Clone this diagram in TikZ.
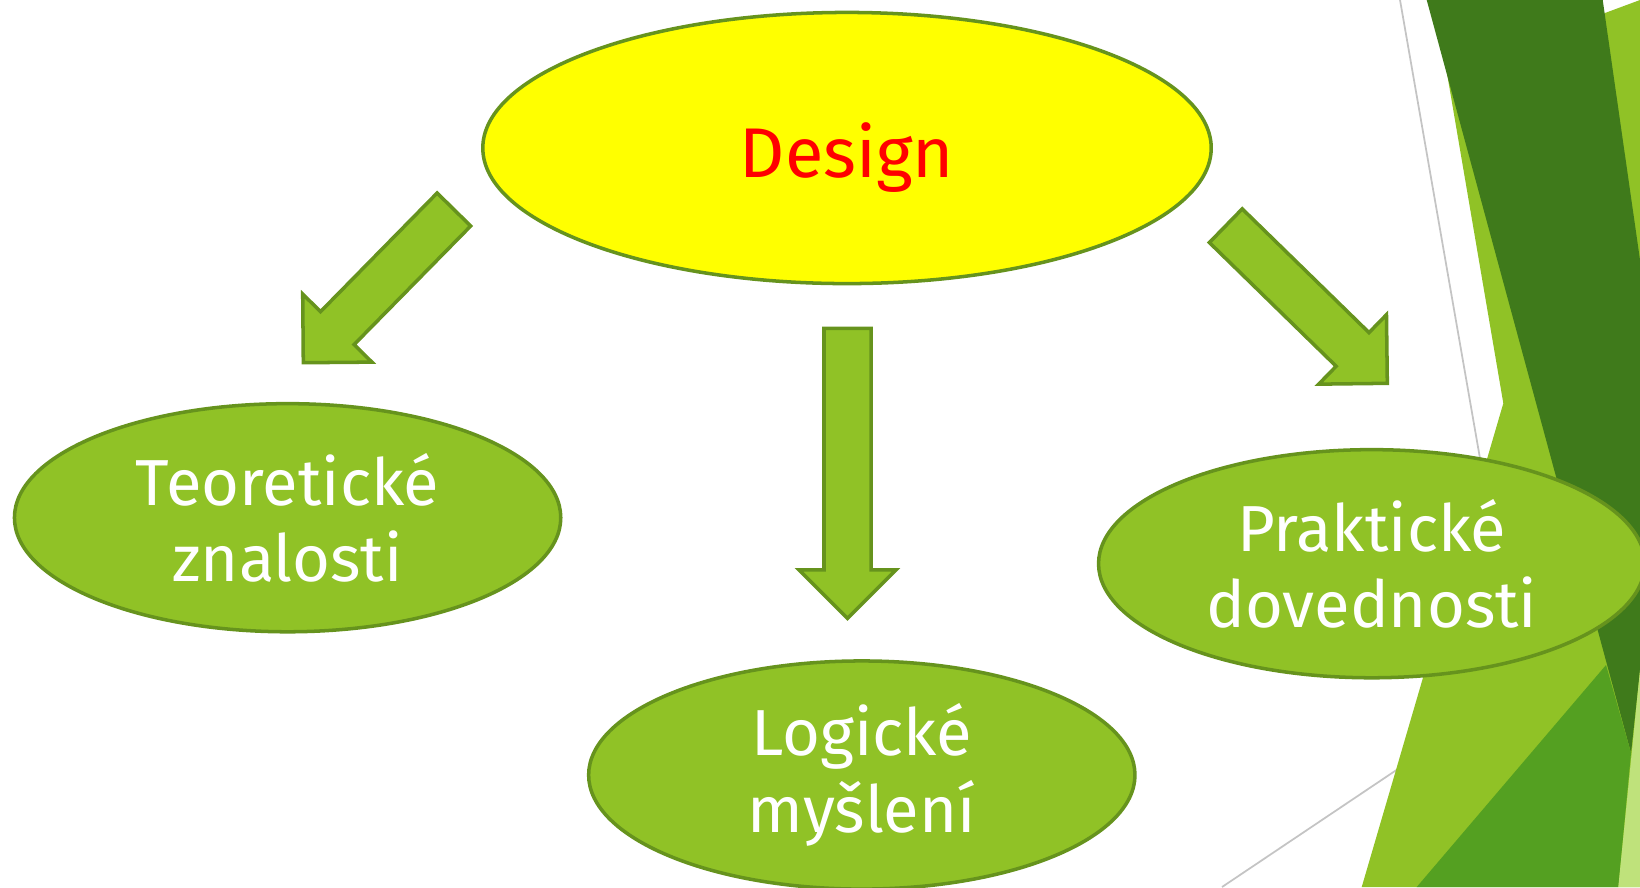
\documentclass[tikz,border=0pt]{standalone}
\usepackage{fontspec}
\setmainfont{Fira Sans}
\usepackage{tikz}
\usetikzlibrary{calc,shapes.geometric}
\definecolor{FacetGreen}{HTML}{90C226}
\definecolor{FacetDark}{HTML}{3F7A1B}
\definecolor{FacetMid}{HTML}{54A021}
\definecolor{FacetPale}{HTML}{BFE27B}
\definecolor{FacetEdge}{HTML}{66931D}
\definecolor{FacetLine}{HTML}{C4C4C4}
\definecolor{DesignYellow}{HTML}{FFFF00}
\definecolor{DesignRed}{HTML}{FF0000}
\newcommand{\shafthalf}{0.235cm}
\newcommand{\winghalf}{0.485cm}
\newcommand{\headlen}{0.485cm}
\tikzset{
  bubble/.style={ellipse,draw=FacetEdge,line width=1pt,fill=FacetGreen,text=white,align=center,
    inner sep=0pt,minimum width=5.46cm,minimum height=2.28cm,font=\fontsize{18.5}{21.8}\selectfont},
  core/.style={bubble,fill=DesignYellow,text=DesignRed,minimum width=7.28cm,minimum height=2.71cm,
    text height=21pt,text depth=4pt,font=\fontsize{20}{24}\selectfont},
  bigarrow/.style={draw=FacetEdge,line width=1pt,fill=FacetGreen,line join=miter},
  hairline/.style={draw=FacetLine,line width=0.5pt}
}
\newcommand{\blockarrow}[2]{%
  \coordinate (hb) at ($(#2)!\headlen!(#1)$);
  \draw[bigarrow] ($(#1)!\shafthalf!90:(#2)$) -- ($(hb)!\shafthalf!90:(#2)$)
    -- ($(hb)!\winghalf!90:(#2)$) -- (#2) -- ($(hb)!\winghalf!-90:(#2)$)
    -- ($(hb)!\shafthalf!-90:(#2)$) -- ($(#1)!\shafthalf!-90:(#2)$) -- cycle;}

\begin{document}
\begin{tikzpicture}[x=0.01cm,y=-0.01cm]
  \useasboundingbox (0,0) rectangle (1640,887);
  % facet background
  \draw[hairline] (1400,0) -- (1482,470);
  \draw[hairline] (1222,887) -- (1400,767.6);
  \fill[FacetGreen] (1446.7,71.7) -- (1503.3,403.3) -- (1361.7,887) -- (1640,887) -- (1640,0) -- cycle;
  \fill[FacetDark] (1426.7,0) -- (1602.7,0) -- (1640,260) -- (1640,670) -- (1631,753) -- cycle;
  \fill[FacetMid] (1416.7,887) -- (1606,665) -- (1631,753) -- (1618.3,887) -- cycle;
  \fill[FacetPale] (1640,670) -- (1618.3,887) -- (1640,887) -- cycle;

  \node[core] (design) at (847,148) {Design};
  \node[bubble] (teo) at (287.6,517.7) {Teoretické\\znalosti};
  \node[bubble] (logic) at (861.8,775) {Logické\\myšlení};
  \node[bubble] (prak) at (1371.7,563.7) {Praktické\\dovednosti};

  \coordinate (teo-tail) at (453.9,209.5);
  \coordinate (teo-tip) at (303.3,362.7);
  \coordinate (logic-tail) at (847.5,328.3);
  \coordinate (logic-tip) at (847.5,618.3);
  \coordinate (prak-tail) at (1225.8,225.7);
  \coordinate (prak-tip) at (1387.3,383.3);
  \blockarrow{teo-tail}{teo-tip}
  \blockarrow{logic-tail}{logic-tip}
  \blockarrow{prak-tail}{prak-tip}
\end{tikzpicture}
\end{document}
